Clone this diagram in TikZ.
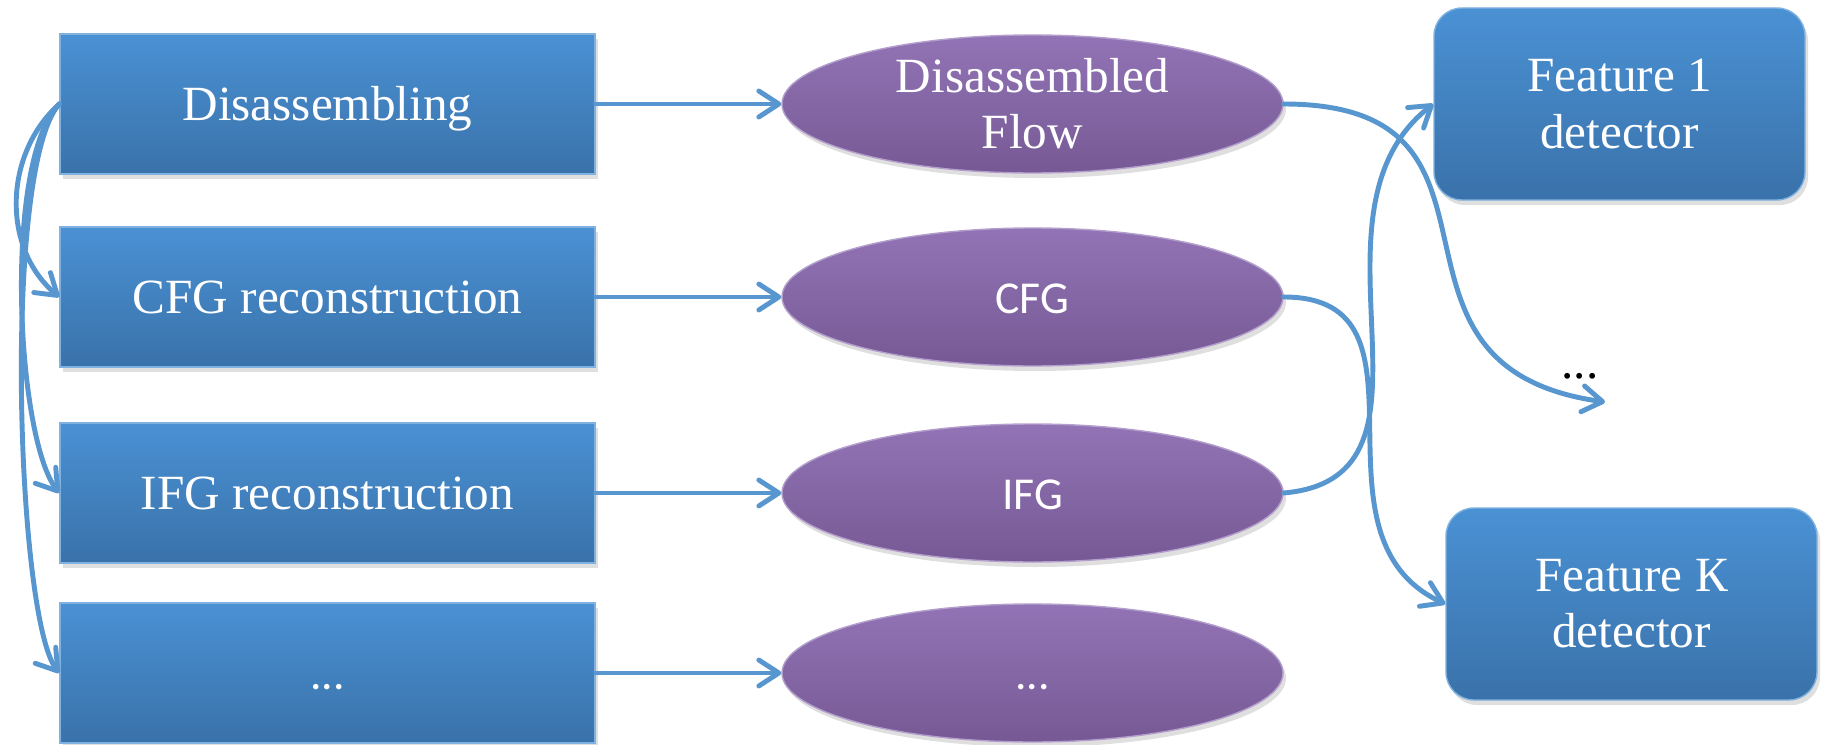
\documentclass[tikz,border=0pt]{standalone}
\usepackage{fontspec}
\setmainfont{Liberation Serif}
\newfontfamily\calfont{Carlito}
\usetikzlibrary{arrows.meta,shapes.geometric,shadows}
\definecolor{boxtop}{RGB}{74,145,212}
\definecolor{boxbot}{RGB}{58,114,170}
\definecolor{elltop}{RGB}{146,116,182}
\definecolor{ellbot}{RGB}{118,89,148}
\definecolor{flow}{RGB}{88,150,207}
\begin{document}
\begin{tikzpicture}[
    oneline/.style={text height=0.33cm, text depth=0pt},
    stage/.style={rectangle, minimum width=5.35cm, minimum height=1.4cm,
      top color=boxtop, bottom color=boxbot, draw=boxtop!70!white,
      line width=0.4pt, text=white, font=\fontsize{14}{16}\selectfont, oneline,
      drop shadow={opacity=0.25, shadow xshift=0.03cm, shadow yshift=-0.05cm}},
    result/.style={ellipse, minimum width=5.01cm, minimum height=1.38cm,
      inner sep=0pt, top color=elltop, bottom color=ellbot, draw=elltop!70!white,
      line width=0.4pt, text=white, align=center, font=\fontsize{14}{16}\selectfont,
      drop shadow={opacity=0.25, shadow xshift=0.03cm, shadow yshift=-0.05cm}},
    detector/.style={rectangle, rounded corners=0.28cm, minimum width=3.71cm,
      minimum height=1.92cm, top color=boxtop, bottom color=boxbot,
      draw=boxtop!70!white, line width=0.4pt, text=white, align=center,
      font=\fontsize{14}{16}\selectfont,
      drop shadow={opacity=0.25, shadow xshift=0.03cm, shadow yshift=-0.05cm}},
    flowline/.style={draw=flow, line width=1.4pt, line cap=round,
      -{Straight Barb[length=2mm, width=2.6mm, round]}}
  ]
  \useasboundingbox (0,0) rectangle (18.26,7.44);
  % stages
  \node[stage] (dis)  at (3.275,6.40) {Disassembling};
  \node[stage] (cfgr) at (3.275,4.47) {CFG reconstruction};
  \node[stage] (ifgr) at (3.275,2.51) {IFG reconstruction};
  \node[stage] (oth)  at (3.275,0.71) {\calfont\fontsize{13}{15}\selectfont ...};
  % results
  \node[result] (dflow) at (10.325,6.40) {Disassembled\\Flow};
  \node[result, oneline] (cfg)   at (10.325,4.47) {\calfont\fontsize{13}{15}\selectfont CFG};
  \node[result, oneline] (ifg)   at (10.325,2.51) {\calfont\fontsize{13}{15}\selectfont IFG};
  \node[result, oneline] (odata) at (10.325,0.71) {\calfont\fontsize{13}{15}\selectfont ...};
  % detectors
  \node[detector] (f1) at (16.195,6.40) {Feature 1\\detector};
  \node[detector] (fk) at (16.315,1.40) {Feature К\\detector};
  \node[font=\fontsize{14}{16}\selectfont] (fdots) at (15.80,3.68) {...};
  \coordinate (fdotsend) at (16.05,3.42);
  \begin{scope}[flowline]
    \draw (dis.west) to[out=222, in=140] (cfgr.west);
    \draw (dis.west) to[out=225, in=128, out distance=0.8cm, in distance=0.7cm] (ifgr.west);
    \draw (dis.west) to[out=228, in=128, out distance=0.85cm, in distance=0.7cm] (oth.west);
    \draw (dis) -- (dflow);
    \draw (cfgr) -- (cfg);
    \draw (ifgr) -- (ifg);
    \draw (oth) -- (odata);
    \draw (dflow.east) to[out=0, in=172, looseness=1.5] (fdotsend);
    \draw (cfg.east) to[out=0, in=155, looseness=1.2] (fk.west);
    \draw (ifg.east) to[out=5, in=218, looseness=1.1] (f1.west);
  \end{scope}
\end{tikzpicture}
\end{document}
